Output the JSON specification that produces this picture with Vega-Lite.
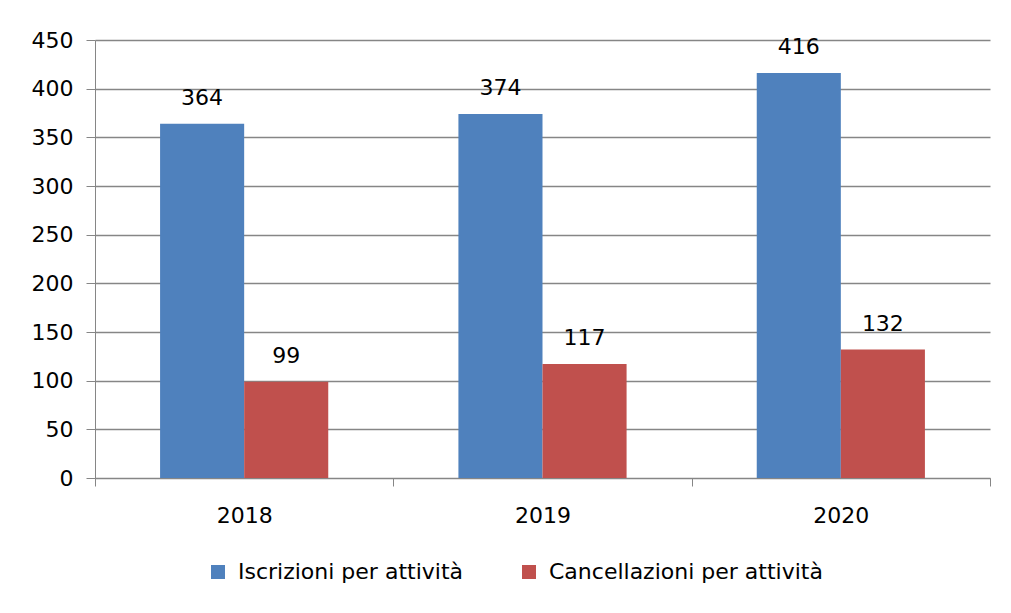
{
  "$schema": "https://vega.github.io/schema/vega-lite/v6.json",
  "autosize": "none",
  "width": 895,
  "height": 438,
  "padding": {"left": 95, "top": 40, "right": 21, "bottom": 135},
  "background": "white",
  "data": {
    "values": [
      {"year": "2018", "series": "Iscrizioni per attività", "value": 364},
      {"year": "2018", "series": "Cancellazioni per attività", "value": 99},
      {"year": "2019", "series": "Iscrizioni per attività", "value": 374},
      {"year": "2019", "series": "Cancellazioni per attività", "value": 117},
      {"year": "2020", "series": "Iscrizioni per attività", "value": 416},
      {"year": "2020", "series": "Cancellazioni per attività", "value": 132}
    ]
  },
  "encoding": {
    "x": {
      "field": "year",
      "type": "nominal",
      "scale": {"paddingInner": 0, "paddingOuter": 0},
      "axis": {
        "title": null,
        "labelAngle": 0,
        "tickBand": "extent",
        "tickSize": 8,
        "labelPadding": 19,
        "domainColor": "#868686",
        "tickColor": "#868686",
        "labelFont": "DejaVu Sans",
        "labelFontSize": 22,
        "labelColor": "#000000",
        "grid": false
      }
    },
    "xOffset": {
      "field": "series",
      "type": "nominal",
      "sort": ["Iscrizioni per attività", "Cancellazioni per attività"],
      "scale": {"paddingInner": 0, "paddingOuter": 0.774}
    }
  },
  "layer": [
    {
      "mark": {"type": "bar"},
      "encoding": {
        "y": {
          "field": "value",
          "type": "quantitative",
          "scale": {"domain": [0, 450], "nice": false},
          "axis": {
            "title": null,
            "values": [0, 50, 100, 150, 200, 250, 300, 350, 400, 450],
            "tickSize": 9,
            "labelPadding": 13,
            "domainColor": "#868686",
            "tickColor": "#868686",
            "gridColor": "#868686",
            "gridWidth": 1.5,
            "labelFont": "DejaVu Sans",
            "labelFontSize": 22,
            "labelColor": "#000000"
          }
        },
        "color": {
          "field": "series",
          "type": "nominal",
          "sort": ["Iscrizioni per attività", "Cancellazioni per attività"],
          "scale": {
            "domain": ["Iscrizioni per attività", "Cancellazioni per attività"],
            "range": ["#4F81BD", "#C0504D"]
          },
          "legend": {
            "title": null,
            "orient": "none",
            "direction": "horizontal",
            "legendX": 112,
            "legendY": 521,
            "symbolType": "square",
            "symbolSize": 196,
            "symbolStrokeWidth": 0,
            "labelFont": "DejaVu Sans",
            "labelFontSize": 22,
            "labelColor": "#000000",
            "labelOffset": 9,
            "columnPadding": 55,
            "labelLimit": 400
          }
        }
      }
    },
    {
      "mark": {
        "type": "text",
        "baseline": "bottom",
        "dy": -14,
        "font": "DejaVu Sans",
        "fontSize": 22,
        "color": "#000000"
      },
      "encoding": {
        "y": {"field": "value", "type": "quantitative"},
        "text": {"field": "value", "type": "quantitative"}
      }
    }
  ],
  "config": {
    "view": {"stroke": null}
  }
}
